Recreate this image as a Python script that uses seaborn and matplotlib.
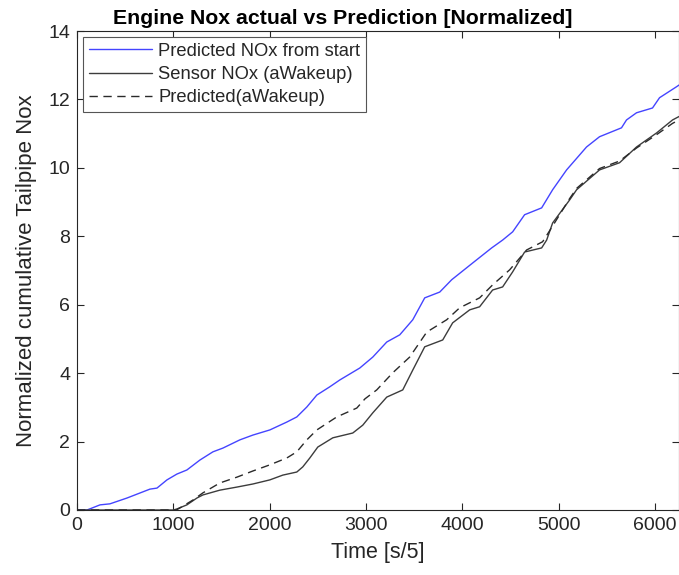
import matplotlib
matplotlib.use("Agg")
import matplotlib.pyplot as plt
import seaborn as sns
import pandas as pd

# ---- data ----
pred_start_x = [0, 104, 239, 342, 519, 757, 830, 934, 1037, 1141, 1276, 1411, 1515, 1691, 1826,
                2002, 2178, 2282, 2386, 2490, 2624, 2728, 2936, 3071, 3216, 3351, 3486, 3610,
                3766, 3890, 4108, 4305, 4419, 4523, 4647, 4824, 4938, 5083, 5290, 5425, 5653,
                5705, 5809, 5975, 6048, 6224, 6250]
pred_start_y = [0, 0, 0.15, 0.18, 0.35, 0.61, 0.64, 0.88, 1.05, 1.17, 1.46, 1.70, 1.81, 2.05, 2.19,
                2.34, 2.57, 2.72, 3.01, 3.36, 3.60, 3.80, 4.15, 4.47, 4.91, 5.12, 5.56, 6.20,
                6.37, 6.73, 7.22, 7.66, 7.89, 8.13, 8.63, 8.83, 9.36, 9.94, 10.61, 10.91, 11.17,
                11.40, 11.61, 11.75, 12.05, 12.37, 12.42]

sensor_x = [0, 1000, 1037, 1141, 1245, 1307, 1483, 1660, 1826, 2002, 2137, 2282, 2344, 2417, 2500,
            2656, 2863, 2967, 3071, 3216, 3382, 3486, 3610, 3797, 3900, 4077, 4180, 4315, 4419,
            4523, 4647, 4824, 4876, 4938, 5114, 5187, 5425, 5633, 5809, 6017, 6183, 6250]
sensor_y = [0, 0, 0.03, 0.15, 0.35, 0.44, 0.58, 0.67, 0.76, 0.88, 1.02, 1.11, 1.26, 1.52, 1.84,
            2.11, 2.25, 2.48, 2.84, 3.30, 3.51, 4.09, 4.77, 4.97, 5.47, 5.85, 5.94, 6.43, 6.52,
            6.96, 7.54, 7.66, 7.89, 8.39, 9.06, 9.36, 9.94, 10.15, 10.61, 11.02, 11.40, 11.50]

pred_wake_x = [0, 1030, 1068, 1203, 1307, 1483, 1660, 1826, 2002, 2178, 2282, 2386, 2490, 2697,
               2905, 2990, 3112, 3278, 3454, 3631, 3838, 3973, 4180, 4315, 4492, 4668, 4834,
               4938, 5114, 5187, 5425, 5633, 5809, 6017, 6183, 6250]
pred_wake_y = [0, 0, 0.06, 0.29, 0.50, 0.79, 0.96, 1.14, 1.32, 1.52, 1.70, 2.05, 2.34, 2.72,
               2.98, 3.25, 3.51, 4.01, 4.47, 5.20, 5.56, 5.91, 6.20, 6.58, 7.02, 7.60, 7.84,
               8.30, 9.10, 9.40, 9.98, 10.20, 10.58, 10.97, 11.30, 11.40]

labels = ["Predicted NOx from start", "Sensor NOx (aWakeup)", "Predicted(aWakeup)"]
title = "Engine Nox actual vs Prediction [Normalized]"
xlabel = "Time [s/5]"
ylabel = "Normalized cumulative Tailpipe Nox"
xticks = [0, 1000, 2000, 3000, 4000, 5000, 6000]
yticks = [0, 2, 4, 6, 8, 10, 12, 14]

sns.set_style("white")
plt.rcParams["font.family"] = ["Liberation Sans", "DejaVu Sans"]
txt = "#262626"

fig = plt.figure(figsize=(6.79, 5.75), dpi=100)
ax_left = 77 / 679
ax = fig.add_axes([ax_left, 1 - 510 / 575, 1 - ax_left, (510 - 31) / 575])

df1 = pd.DataFrame({"x": pred_start_x, "y": pred_start_y})
df2 = pd.DataFrame({"x": sensor_x, "y": sensor_y})
df3 = pd.DataFrame({"x": pred_wake_x, "y": pred_wake_y})

sns.lineplot(data=df1, x="x", y="y", ax=ax, color="#4444ff", lw=1.0, label=labels[0],
             estimator=None, sort=False)
sns.lineplot(data=df2, x="x", y="y", ax=ax, color="#3c3c3c", lw=1.0, label=labels[1],
             estimator=None, sort=False)
sns.lineplot(data=df3, x="x", y="y", ax=ax, color="#2a2a2a", lw=1.0, label=labels[2],
             estimator=None, sort=False, dashes=False)
ax.lines[2].set_dashes((6, 4))

ax.set_xlim(0, 6250)
ax.set_ylim(0, 14)
ax.set_xticks(xticks)
ax.set_yticks(yticks)
ax.tick_params(direction="in", length=5, width=0.8, colors=txt, labelsize=14,
               top=True, right=True, bottom=True, left=True, pad=5)
for s in ax.spines.values():
    s.set_color(txt)
    s.set_linewidth(0.8)
ax.set_xlabel(xlabel, fontsize=15.5, color=txt, labelpad=6)
ax.set_ylabel(ylabel, fontsize=16, color=txt, labelpad=8)
# title centred on the figure, as in the reference
ax.set_title(title, fontsize=15.3, fontweight="bold", color="black", pad=5,
             x=(0.5 - ax_left) / (1 - ax_left) + 0.005)

leg = ax.legend(loc="upper left", fontsize=13.2, frameon=True, fancybox=False,
                edgecolor="#555555", framealpha=1, handlelength=3.45, handletextpad=0.33,
                borderpad=0.3, labelspacing=0.33, borderaxespad=0.35)
leg.get_frame().set_linewidth(0.8)
for t in leg.get_texts():
    t.set_color(txt)

fig.savefig("out.png", dpi=100)
